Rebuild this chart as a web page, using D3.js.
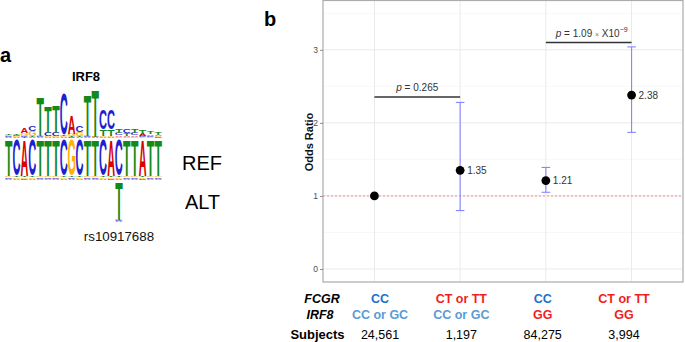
<!DOCTYPE html>
<html>
<head>
<meta charset="utf-8">
<script src="https://cdn.jsdelivr.net/npm/d3@7"></script>
<style>
  body { margin: 0; background: #fff; }
  svg { display: block; font-family: "Liberation Sans", Arial, sans-serif; }
</style>
</head>
<body>
<div id="chart"></div>
<script>
// ---- data: panel a (sequence logo) ----
const refSeq = ["T","C","A","C","T","T","T","C","G","C","T","T","C","A","C","T","T","A","T","T"];
const bases = ["A","C","G","T"];
// motif information content (bits) per position
const motifA = [.04,.04,.20,.03,.03,.03,.03,.04,.70,.04,.03,.02,.04,.04,.07,.05,.06,.08,.07,.05];
const motifC = [.04,.05,.05,.22,.03,.15,.15,1.65,.04,.24,.03,.02,.80,.80,.08,.15,.10,.05,.05,.04];
const motifG = [.04,.04,.12,.20,.03,.03,.03,.04,.10,.14,.03,.02,.04,.04,.04,.04,.04,.04,.04,.04];
const motifT = [.05,.05,.04,.03,1.55,1.05,1.10,.04,.04,.04,1.62,1.85,.26,.26,.15,.12,.15,.15,.12,.08];
const refMain = 1.75, refMinor = 0.07;
const altIndex = 14, altBase = "T", altMain = 1.9, altMinor = 0.04;
const snpId = "rs10917688";

// ---- data: panel b (odds ratios) ----
const groups = [1, 2, 3, 4];
const fcgrGeno = ["CC", "CT or TT", "CC", "CT or TT"];
const irf8Geno = ["CC or GC", "CC or GC", "GG", "GG"];
const subjects = ["24,561", "1,197", "84,275", "3,994"];
const oddsRatio = [1, 1.35, 1.21, 2.38];
const ciLow = [null, 0.80, 1.05, 1.87];
const ciHigh = [null, 2.28, 1.39, 3.04];
const yTicks = [0, 1, 2, 3];
const pTests = [
  { from: 1, to: 2, at: 2.354, p: "0.265" },
  { from: 3, to: 4, at: 3.10, p: "1.09", exp: "\u22129" }
];

const baseColor = { A: "#d80000", C: "#1f1fd2", G: "#ffb000", T: "#13891a" };
const fcgrColor = { "CC": "#1b72c9", "CT or TT": "#f01e1e" };
const irf8Color = { "CC or GC": "#5b9bd5", "GG": "#f01e1e" };

const width = 685, height = 342;
const svg = d3.select("#chart").append("svg")
  .attr("width", width).attr("height", height);

// ================= panel a =================
const fontLogo = "'Liberation Sans'";
const ctx = document.createElement("canvas").getContext("2d");
ctx.font = `bold 100px ${fontLogo}`;
const ink = {};
bases.forEach(b => {
  const m = ctx.measureText(b);
  ink[b] = { l: -m.actualBoundingBoxLeft, r: m.actualBoundingBoxRight,
             t: -m.actualBoundingBoxAscent, b: m.actualBoundingBoxDescent };
});

const logoX = d3.scaleBand().domain(d3.range(refSeq.length)).range([5, 162]).paddingInner(0.07);
const motifY = d3.scaleLinear().domain([0, 2]).range([138, 88]);
const refY = d3.scaleLinear().domain([0, 2]).range([180, 140]);
const altY = d3.scaleLinear().domain([0, 2]).range([222, 182]);

const ga = svg.append("g");

function letter(g, b, x0, y0, w, h) {
  if (h <= 0) return;
  const k = ink[b];
  g.append("text")
    .attr("font-family", fontLogo)
    .attr("font-weight", "bold")
    .attr("font-size", 100)
    .attr("fill", baseColor[b])
    .attr("transform", `translate(${x0},${y0}) scale(${w / (k.r - k.l)},${h / (k.b - k.t)}) translate(${-k.l},${-k.t})`)
    .text(b);
}

function column(i, heights, yScale) {
  // smallest at bottom, largest on top
  const items = bases.map(b => ({ b, h: heights[b] })).sort((a, c) => a.h - c.h);
  let cum = 0;
  items.forEach(d => {
    const yTop = yScale(cum + d.h), yBot = yScale(cum);
    letter(ga, d.b, logoX(i), yTop, logoX.bandwidth(), yBot - yTop);
    cum += d.h;
  });
}

refSeq.forEach((_, i) => {
  column(i, { A: motifA[i], C: motifC[i], G: motifG[i], T: motifT[i] }, motifY);
});
refSeq.forEach((r, i) => {
  const h = {}; bases.forEach(b => h[b] = b === r ? refMain : refMinor);
  column(i, h, refY);
});
{
  const h = {}; bases.forEach(b => h[b] = b === altBase ? altMain : altMinor);
  column(altIndex, h, altY);
}

ga.append("text").attr("x", 0).attr("y", 61.7)
  .attr("font-size", 20).attr("font-weight", "bold").text("a");
ga.append("text").attr("x", 86).attr("y", 80.7).attr("text-anchor", "middle")
  .attr("font-size", 13).attr("font-weight", "bold").text("IRF8");
ga.append("text").attr("x", 202).attr("y", 170).attr("text-anchor", "middle")
  .attr("font-size", 20).text("REF");
ga.append("text").attr("x", 202.5).attr("y", 209.3).attr("text-anchor", "middle")
  .attr("font-size", 20).text("ALT");
ga.append("text").attr("x", logoX(altIndex) + logoX.bandwidth() / 2).attr("y", 240.7)
  .attr("text-anchor", "middle").attr("font-size", 13.3).attr("fill", "#111").text(snpId);

// ================= panel b =================
const pLeft = 323, pRight = 683, pTop = 0.5, pBottom = 282;
const x = d3.scaleLinear().domain([0.4, 4.6]).range([pLeft, pRight]);
const y = d3.scaleLinear().domain([-0.178, 3.675]).range([pBottom, pTop]);

const gb = svg.append("g");

gb.append("text").attr("x", 264).attr("y", 26)
  .attr("font-size", 20).attr("font-weight", "bold").text("b");

// grid
gb.append("g").selectAll("line")
  .data(yTicks.map(v => v + 0.5))
  .join("line")
    .attr("x1", pLeft).attr("x2", pRight)
    .attr("y1", d => y(d)).attr("y2", d => y(d))
    .attr("stroke", "#f3f3f3").attr("stroke-width", 0.7);
gb.append("g").selectAll("line")
  .data(yTicks)
  .join("line")
    .attr("x1", pLeft).attr("x2", pRight)
    .attr("y1", d => y(d)).attr("y2", d => y(d))
    .attr("stroke", "#e9e9e9").attr("stroke-width", 1);
gb.append("g").selectAll("line")
  .data(groups)
  .join("line")
    .attr("x1", d => x(d)).attr("x2", d => x(d))
    .attr("y1", pTop).attr("y2", pBottom)
    .attr("stroke", "#e9e9e9").attr("stroke-width", 1);

// reference line at OR = 1
gb.append("line")
  .attr("x1", pLeft).attr("x2", pRight)
  .attr("y1", y(1)).attr("y2", y(1))
  .attr("stroke", "#ff8a8a").attr("stroke-width", 1)
  .attr("stroke-dasharray", "2,2");

// border
gb.append("rect")
  .attr("x", pLeft).attr("y", pTop)
  .attr("width", pRight - pLeft).attr("height", pBottom - pTop)
  .attr("fill", "none").attr("stroke", "#ababab").attr("stroke-width", 1.2);

// y axis
const yAxis = gb.append("g")
  .attr("transform", `translate(${pLeft},0)`)
  .call(d3.axisLeft(y).tickValues(yTicks).tickSize(3).tickPadding(2).tickFormat(d3.format("d")));
yAxis.select(".domain").remove();
yAxis.selectAll(".tick line").attr("stroke", "#8c8c8c");
yAxis.selectAll(".tick text")
  .attr("font-family", "Liberation Sans, Arial, sans-serif")
  .attr("font-size", 8.5).attr("fill", "#4d4d4d");

gb.append("text")
  .attr("transform", `translate(313,142) rotate(-90)`)
  .attr("text-anchor", "middle")
  .attr("font-size", 11).attr("font-weight", "bold").attr("fill", "#111")
  .text("Odds Ratio");

// error bars
const ci = groups.map((g, i) => ({ g, lo: ciLow[i], hi: ciHigh[i] })).filter(d => d.lo != null);
const eb = gb.append("g").attr("stroke", "#8585ff").attr("stroke-width", 1.1);
eb.selectAll(".stem").data(ci).join("line")
  .attr("x1", d => x(d.g)).attr("x2", d => x(d.g))
  .attr("y1", d => y(d.lo)).attr("y2", d => y(d.hi));
eb.selectAll(".caplo").data(ci).join("line")
  .attr("x1", d => x(d.g) - 4.3).attr("x2", d => x(d.g) + 4.3)
  .attr("y1", d => y(d.lo)).attr("y2", d => y(d.lo));
eb.selectAll(".caphi").data(ci).join("line")
  .attr("x1", d => x(d.g) - 4.3).attr("x2", d => x(d.g) + 4.3)
  .attr("y1", d => y(d.hi)).attr("y2", d => y(d.hi));

// points
const pts = groups.map((g, i) => ({ g, or: oddsRatio[i], i }));
gb.append("g").selectAll("circle").data(pts).join("circle")
  .attr("cx", d => x(d.g)).attr("cy", d => y(d.or))
  .attr("r", 4.4).attr("fill", "#000");
gb.append("g").selectAll("text").data(pts.filter(d => d.i > 0)).join("text")
  .attr("x", d => x(d.g) + 7).attr("y", d => y(d.or) + 3.6)
  .attr("font-size", 10).attr("fill", "#333")
  .text(d => d.or.toFixed(2));

// p-value brackets
pTests.forEach(t => {
  gb.append("line")
    .attr("x1", x(t.from)).attr("x2", x(t.to))
    .attr("y1", y(t.at)).attr("y2", y(t.at))
    .attr("stroke", "#333").attr("stroke-width", 1.5);
  const lbl = gb.append("text")
    .attr("x", (x(t.from) + x(t.to)) / 2 + (t.exp ? 3 : 0))
    .attr("y", y(t.at) - 6)
    .attr("text-anchor", "middle")
    .attr("font-size", 10).attr("fill", "#333");
  lbl.append("tspan").attr("font-style", "italic").text("p");
  if (!t.exp) {
    lbl.append("tspan").text(" = " + t.p);
  } else {
    lbl.append("tspan").text(" = " + t.p + " ");
    lbl.append("tspan").attr("font-size", 7).attr("fill", "#777").text("\u00d7");
    lbl.append("tspan").text(" X10");
    lbl.append("tspan").attr("font-size", 7).attr("dy", -5).text(t.exp);
  }
});

// genotype table under the plot
const colX = d3.scalePoint().domain(d3.range(groups.length)).range([380, 624]);
const tbl = gb.append("g").attr("text-anchor", "middle").attr("font-size", 12.5);
tbl.append("text").attr("x", 322).attr("y", 303.3)
  .attr("font-weight", "bold").attr("font-style", "italic").text("FCGR");
tbl.append("text").attr("x", 320).attr("y", 318.7)
  .attr("font-weight", "bold").attr("font-style", "italic").text("IRF8");
tbl.append("text").attr("x", 317.5).attr("y", 339)
  .attr("font-weight", "bold").attr("font-size", 13).text("Subjects");
tbl.selectAll(".fc").data(fcgrGeno).join("text")
  .attr("x", (d, i) => colX(i)).attr("y", 303.3)
  .attr("font-weight", "bold").attr("fill", d => fcgrColor[d]).text(d => d);
tbl.selectAll(".ir").data(irf8Geno).join("text")
  .attr("x", (d, i) => colX(i)).attr("y", 318.7)
  .attr("font-weight", "bold").attr("fill", d => irf8Color[d]).text(d => d);
tbl.selectAll(".sb").data(subjects).join("text")
  .attr("x", (d, i) => colX(i)).attr("y", 339)
  .attr("fill", "#000").text(d => d);
</script>
</body>
</html>
